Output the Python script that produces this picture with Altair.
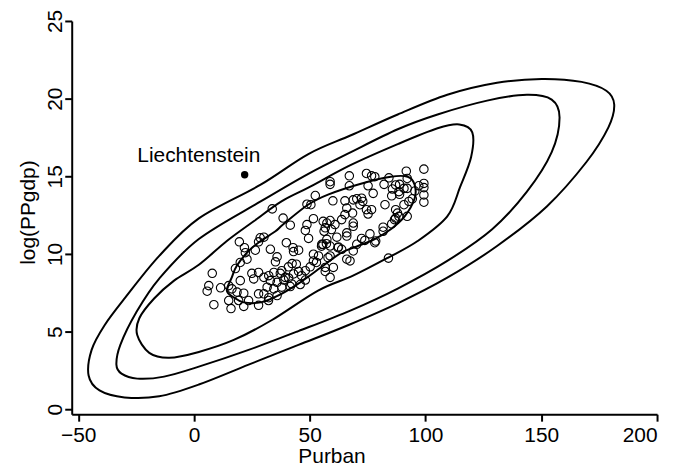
import altair as alt
import pandas as pd

# ---- scatter data: Purban (x) and log(PPgdp) (y) ----
purban = [
    19.6, 21.8, 28.6, 27.9, 26.5, 22.2, 22.9, 20.0, 17.9, 7.9, 25.0, 27.9, 25.8, 20.0,
    6.4, 5.7, 11.5, 15.0, 16.4, 18.6, 21.5, 27.9, 15.0, 19.3, 23.6, 8.6, 16.0, 21.5, 27.9,
    33.8, 52.4, 48.8, 50.5, 38.5, 41.6, 51.6, 48.8, 48.1, 49.5, 30.2, 33.0, 39.9, 42.8,
    43.0, 45.2, 51.6, 35.9, 35.2, 42.4, 44.2, 55.2, 53.8, 51.6, 50.2, 48.1, 45.2, 43.0,
    40.9, 37.3, 34.5, 32.3, 30.2, 33.0, 35.9, 38.8, 41.6, 45.9, 48.1, 31.6, 34.5, 30.2,
    32.3, 35.9,
    58.8, 58.8, 67.1, 67.1, 74.5, 76.7, 78.1, 75.2, 77.4, 60.0, 65.2, 68.8, 70.3, 72.4,
    71.7, 66.0, 74.5, 76.7, 75.2, 65.2, 68.5, 63.8, 58.8, 57.4, 56.7, 56.2, 60.9, 68.8,
    68.8, 66.0, 66.0, 61.7, 57.4, 76.0, 72.4, 73.8, 70.3, 62.4, 63.8, 78.1, 58.8, 55.7,
    68.8, 58.8, 66.0, 67.4, 56.7, 56.7, 60.2, 58.8,
    84.2, 91.7, 99.3, 92.1, 82.1, 87.1, 88.8, 90.7, 97.1, 99.3, 99.3, 85.7, 88.5, 92.1,
    95.4, 99.3, 85.4, 88.8, 94.3, 92.8, 82.5, 90.7, 99.3, 87.1, 87.9, 87.1, 88.5, 92.1,
    85.4, 81.7, 81.7, 78.5, 84.0,
    72.9, 86.6, 59.4, 55.1, 57.2, 62.2, 57.9, 52.9, 46.5, 40.8, 37.9, 39.4, 42.2, 37.9,
    32.2, 55.8,
]
log_ppgdp = [
    10.78, 10.40, 11.04, 10.78, 10.24, 10.08, 9.66, 9.45, 9.06, 8.75, 8.75, 8.81, 8.39, 8.28,
    7.96, 7.60, 7.82, 7.96, 7.75, 7.54, 7.47, 7.43, 7.00, 7.00, 7.00, 6.73, 6.48, 6.62, 6.69,
    12.90, 13.76, 13.20, 13.17, 12.31, 11.85, 12.27, 11.89, 11.51, 11.00, 11.08, 10.30, 10.72, 10.40,
    10.15, 10.24, 9.98, 9.81, 9.49, 9.38, 9.34, 10.62, 9.87, 9.55, 9.17, 8.92, 8.87, 8.71,
    8.45, 8.75, 8.81, 8.60, 8.49, 8.28, 8.17, 8.32, 7.90, 8.03, 8.32, 7.86, 7.75, 7.43,
    7.18, 7.32,
    14.65, 14.48, 15.03, 14.39, 15.18, 15.03, 14.97, 14.39, 13.90, 13.42, 13.42, 13.48, 13.55, 13.59,
    13.17, 12.95, 12.85, 12.85, 12.57, 12.53, 12.63, 12.21, 12.15, 11.99, 11.68, 11.46, 11.89, 11.99,
    11.78, 11.36, 11.15, 11.08, 10.94, 11.29, 11.00, 10.87, 10.62, 10.45, 10.30, 10.72, 10.51, 10.62,
    10.19, 9.87, 9.66, 9.55, 9.13, 8.87, 9.13, 8.49,
    14.90, 15.33, 15.46, 14.86, 14.48, 14.44, 14.48, 14.22, 14.39, 14.54, 14.27, 14.18, 14.01, 14.22,
    14.05, 13.80, 13.74, 13.84, 13.55, 13.38, 13.17, 13.17, 13.33, 12.85, 12.63, 12.31, 12.42, 12.42,
    11.93, 11.72, 11.46, 10.83, 9.73,
    13.38, 12.21, 11.57, 10.50, 10.66, 10.40, 9.76, 9.45, 8.60, 9.17, 8.92, 8.49, 8.07, 7.86,
    7.00, 12.10,
]

# ---- highlighted outlier ----
outlier_name = ["Liechtenstein"]
outlier_x = [21.9]
outlier_y = [15.1]
label_x = [2.1]
label_y = [16.3]

# ---- contour lines ----
c1_x = [14.2, 16.3, 18.5, 23.6, 28.8, 35.2, 38.6, 49.4, 57.9, 72.1, 85.0, 92.3, 95.3, 95.3,
        91.0, 85.0, 78.1, 70.8, 63.5, 55.8, 45.1, 35.6, 28.8, 21.5, 17.2]
c1_y = [7.64, 8.47, 9.24, 10.19, 10.83, 11.46, 11.91, 13.18, 13.82, 14.52, 14.97, 14.97, 14.46, 13.57,
        12.42, 11.59, 10.96, 10.51, 10.06, 9.24, 8.09, 7.26, 6.88, 6.88, 7.20]
c2_x = [-24.5, -23.6, -17.2, -8.6, 2.1, 14.2, 25.8, 37.8, 49.4, 67.8, 88.0, 105.2, 114.6, 120.2,
        119.7, 115.0, 109.4, 96.6, 83.7, 68.7, 53.6, 33.5, 17.2, 2.1, -10.7, -19.3]
c2_y = [4.78, 5.86, 7.13, 8.28, 9.30, 10.83, 12.10, 13.38, 14.27, 15.73, 17.07, 18.09, 18.34, 17.83,
        16.24, 14.33, 12.42, 10.83, 9.75, 8.60, 7.64, 5.73, 4.46, 3.69, 3.31, 3.63]
c3_x = [-33.5, -31.8, -24.9, -15.0, 2.1, 28.8, 49.4, 67.8, 88.0, 105.2, 126.6, 143.8, 154.5, 157.9,
        154.5, 143.8, 128.8, 109.4, 88.0, 67.8, 45.1, 23.6, 2.1, -12.9, -24.5, -31.3]
c3_y = [2.87, 4.14, 6.24, 8.41, 10.96, 13.38, 15.16, 16.56, 18.03, 18.98, 19.87, 20.25, 19.94, 18.79,
        16.56, 14.01, 11.59, 9.55, 7.77, 6.37, 5.03, 3.82, 2.74, 2.10, 1.97, 2.29]
c4_x = [-45.5, -44.2, -38.6, -29.6, -15.0, 2.1, 28.8, 49.4, 67.8, 88.0, 109.4, 130.9, 150.2, 167.4,
        178.1, 181.5, 179.0, 169.5, 152.4, 130.9, 109.4, 88.0, 66.5, 45.1, 23.6, 2.1, -15.0, -30.0,
        -40.8]
c4_y = [2.17, 3.82, 5.41, 7.20, 9.87, 12.29, 14.46, 16.43, 17.64, 18.98, 20.25, 21.02, 21.27, 21.08,
        20.51, 19.62, 18.15, 15.92, 13.06, 10.51, 8.47, 6.82, 5.41, 4.14, 2.87, 1.59, 0.83, 0.76,
        1.21]

x_ticks = [-50, 0, 50, 100, 150, 200]
y_ticks = [0, 5, 10, 15, 20, 25]

FONT = "Liberation Sans, Arial, Helvetica, sans-serif"
FS = 21

rows = []
for lvl, (xs, ys) in enumerate([(c1_x, c1_y), (c2_x, c2_y), (c3_x, c3_y), (c4_x, c4_y)]):
    for i, (a, b) in enumerate(zip(xs, ys)):
        rows.append({"x": a, "y": b, "level": lvl, "ord": i})
contours = pd.DataFrame(rows)
pts = pd.DataFrame({"x": purban, "y": log_ppgdp})
outl = pd.DataFrame({"x": outlier_x, "y": outlier_y, "name": outlier_name,
                     "lx": label_x, "ly": label_y})

xscale = alt.Scale(domain=[-52.8, 200], nice=False, zero=False)
yscale = alt.Scale(domain=[-0.32, 25], nice=False, zero=False)

xaxis = alt.Axis(values=x_ticks, title="Purban", titleX=261, titleY=49,
                 titleBaseline="alphabetic", titleAlign="center",
                 labelBaseline="top", labelPadding=3)
yaxis = alt.Axis(values=y_ticks, title="log(PPgdp)", labelAngle=270, labelAlign="center",
                 labelBaseline="alphabetic", labelPadding=3, titleAngle=270,
                 titleX=-43, titleY=192, titleAlign="center", titleBaseline="middle")

lines = alt.Chart(contours).mark_line(color="black", strokeWidth=2,
                                      interpolate="cardinal-closed").encode(
    x=alt.X("x:Q", scale=xscale, axis=xaxis),
    y=alt.Y("y:Q", scale=yscale, axis=yaxis),
    detail="level:N",
    order="ord:Q",
)
points = alt.Chart(pts).mark_point(shape="circle", filled=False, color="black",
                                   size=72, strokeWidth=1.1, opacity=1).encode(
    x="x:Q", y="y:Q")
dot = alt.Chart(outl).mark_circle(color="black", size=55, opacity=1).encode(x="x:Q", y="y:Q")
label = alt.Chart(outl).mark_text(font=FONT, fontSize=FS, color="black",
                                  align="center", baseline="middle").encode(
    x="lx:Q", y="ly:Q", text="name:N")

chart = alt.layer(lines, points, dot, label).properties(
    width=588, height=395,
    autosize=alt.AutoSizeParams(type="none"),
    padding={"left": 64, "top": 12, "right": 10, "bottom": 51},
).configure_view(stroke=None).configure_axis(
    grid=False, domainColor="black", domainWidth=2, tickColor="black", tickWidth=2,
    tickSize=7, labelFont=FONT, labelFontSize=FS, labelColor="black",
    titleFont=FONT, titleFontSize=FS, titleFontWeight="normal", titleColor="black",
)

chart.save("out.html", embed_options={"renderer": "svg", "actions": False})
